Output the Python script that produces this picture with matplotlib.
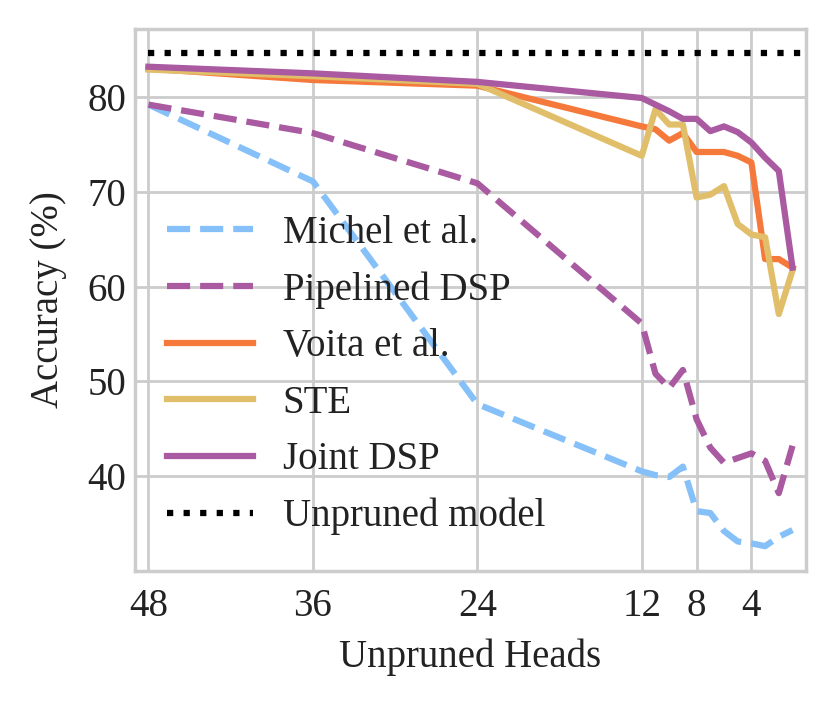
import matplotlib
matplotlib.use("Agg")
import matplotlib.pyplot as plt

# unpruned heads (x) and accuracy (%) per method
heads = [48, 36, 24, 12, 11, 10, 9, 8, 7, 6, 5, 4, 3, 2, 1]
michel = [79.2, 71.1, 47.6, 40.5, 40.1, 39.9, 41.0, 36.3, 36.1, 34.2, 33.1, 32.9, 32.6, 33.6, 34.3]
pipelined = [79.2, 76.2, 70.9, 56.1, 50.8, 49.3, 51.2, 46.0, 43.0, 41.4, 41.9, 42.4, 41.6, 38.2, 43.2]
voita = [83.0, 81.8, 81.2, 76.9, 76.6, 75.4, 76.2, 74.2, 74.2, 74.2, 73.8, 73.1, 62.9, 62.9, 62.0]
ste = [82.9, 82.2, 81.4, 73.8, 78.7, 77.1, 77.1, 69.4, 69.7, 70.6, 66.6, 65.5, 65.2, 57.1, 61.7]
joint = [83.2, 82.5, 81.6, 79.9, 79.2, 78.5, 77.7, 77.7, 76.4, 76.9, 76.3, 75.2, 73.6, 72.2, 62.0]
unpruned = 84.6
xticks = [48, 36, 24, 12, 8, 4]

plt.rcParams.update({
    "font.family": ["Liberation Serif", "DejaVu Serif"],
    "font.size": 14,
    "text.color": "#222222",
    "axes.labelcolor": "#222222",
    "xtick.color": "#222222",
    "ytick.color": "#222222",
    "axes.edgecolor": "#cccccc",
    "axes.linewidth": 1.25,
    "grid.color": "#cccccc",
    "grid.linewidth": 1.0,
    "xtick.major.size": 0,
    "ytick.major.size": 0,
})

fig = plt.figure(figsize=(4.16, 3.515), dpi=200)
ax = fig.add_axes([0.162, 0.188, 0.807, 0.771])
ax.grid(True)
ax.set_axisbelow(True)

lw = 2.25
ax.plot(heads, michel, color="#85C0F9", ls="--", lw=lw, label="Michel et al.")
ax.plot(heads, pipelined, color="#A95AA1", ls="--", lw=lw, label="Pipelined DSP")
ax.plot(heads, voita, color="#F5793A", lw=lw, label="Voita et al.")
ax.plot(heads, ste, color="#E1BE6A", lw=lw, label="STE")
ax.plot(heads, joint, color="#A95AA1", lw=lw, label="Joint DSP")
ax.plot([heads[0], 0], [unpruned, unpruned], color="black", ls=":", lw=lw,
        label="Unpruned model")

ax.set_xlim(49, 0)
ax.set_xticks(xticks)
ax.set_yticks([40, 50, 60, 70, 80])
ax.tick_params(axis="x", pad=6)
ax.tick_params(axis="y", pad=3)
ax.set_xlabel("Unpruned Heads", labelpad=5)
ax.set_ylabel("Accuracy (%)", labelpad=7.5)

ax.legend(loc="lower left", bbox_to_anchor=(0.025, 0.037), borderaxespad=0,
          frameon=False, handlelength=2.2, handletextpad=0.77, labelspacing=0.5)

fig.savefig("out.png", dpi=200)
